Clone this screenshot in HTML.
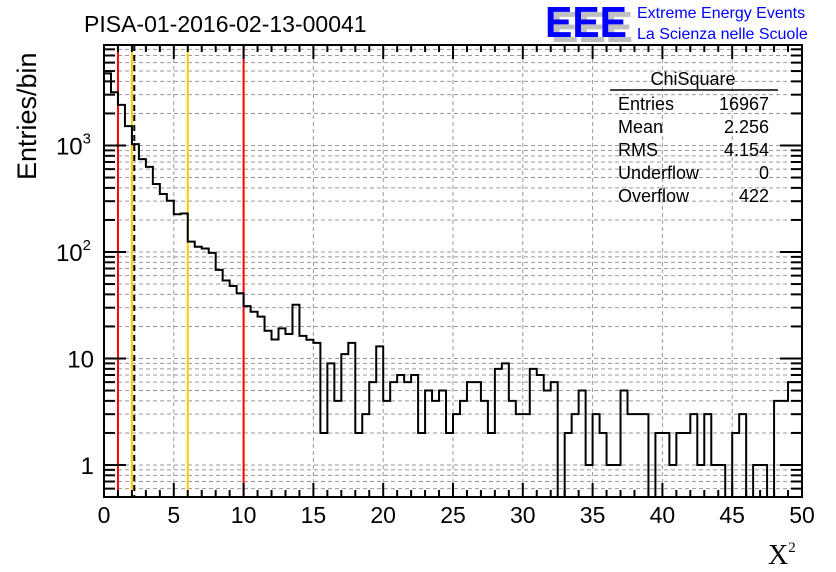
<!DOCTYPE html>
<html><head><meta charset="utf-8">
<style>
html,body{margin:0;padding:0;background:#fff;}
svg{display:block;font-family:"Liberation Sans",sans-serif;}
</style></head>
<body>
<svg id="chart" width="836" height="572" viewBox="0 0 836 572" xmlns="http://www.w3.org/2000/svg">
<rect x="0" y="0" width="836" height="572" fill="#fff"/>
<g id="grid"></g>
<g id="vlines"></g>
<path id="hist" fill="none" stroke="#000" stroke-width="2"/>
<rect x="104" y="45" width="698" height="452" fill="none" stroke="#000" stroke-width="2"/>
<g id="ticks"></g>
<text x="84" y="32" font-size="23">PISA-01-2016-02-13-00041</text>
<g>
<text x="551" y="42" font-size="44" font-weight="bold" fill="#c0c0c0" textLength="82" lengthAdjust="spacingAndGlyphs">EEE</text>
<text x="545" y="37" font-size="44" font-weight="bold" fill="#0000ff" textLength="82" lengthAdjust="spacingAndGlyphs">EEE</text>
<text x="637" y="18" font-size="16" fill="#0000ff">Extreme Energy Events</text>
<text x="637" y="39" font-size="16" fill="#0000ff">La Scienza nelle Scuole</text>
</g>
<g font-size="18">
<text x="693" y="85" text-anchor="middle">ChiSquare</text>
<line x1="610" y1="90" x2="778" y2="90" stroke="#000" stroke-width="1.5"/>
<text x="618" y="110">Entries</text><text x="769" y="110" text-anchor="end">16967</text>
<text x="618" y="133">Mean</text><text x="769" y="133" text-anchor="end">2.256</text>
<text x="618" y="156">RMS</text><text x="769" y="156" text-anchor="end">4.154</text>
<text x="618" y="179">Underflow</text><text x="769" y="179" text-anchor="end">0</text>
<text x="618" y="202">Overflow</text><text x="769" y="202" text-anchor="end">422</text>
</g>
<text transform="translate(36,180) rotate(-90)" font-size="27">Entries/bin</text>
<text x="768" y="564" font-size="28" font-family="Liberation Serif,serif">X<tspan font-size="15" dy="-12">2</tspan></text>
</svg>
<script>
const binWidth = 0.5;
const counts = [4760,3160,2410,1520,1030,745,630,435,350,303,226,230,125,112,108,98,68,54,48,41,
31,27.5,24.7,18.2,15.1,19.2,17,32,16.3,15,14,2,9,4,11,14,2,3,6,13,
4,6,7,6,7,2,5,4,5,2,3,4,6,6,4,2,8,9,4,3,
3,8,7,5,6,0,2,3,5,1,3,2,1,1,5,3,3,3,0,2,
2,1,2,2,3,1,3,1,1,0,2,3,0,1,1,0,4,4,6,6];
const xTicks = [0,5,10,15,20,25,30,35,40,45,50];
const cutLines = [1,2,2.17,6,10];
const cutColors = ["#ff0000","#ffcc00","#000","#ffcc00","#ff0000"];

const X0=104, X1=802, Y0=497, YT=45;
const xs = v => X0 + (v/50)*(X1-X0);
const ys = v => 465 - 106.5*Math.log10(v);
const ymin = 0.5;
const NS="http://www.w3.org/2000/svg";
function el(t,a,p){const e=document.createElementNS(NS,t);for(const k in a)e.setAttribute(k,a[k]);p.appendChild(e);return e;}
const grid=document.getElementById('grid'), ticks=document.getElementById('ticks'), svg=document.getElementById('chart');

xTicks.forEach(v=>{ if(v>0&&v<50){const g=el('line',{x1:xs(v),x2:xs(v),y1:YT,y2:Y0,stroke:'#999','stroke-width':1,'stroke-dasharray':'4,3'},grid);

}});
function yTick(v,big){const y=ys(v); if(y<YT+1||y>Y0-1) return;
 const g=el('line',{x1:X0,x2:X1,y1:y,y2:y,stroke:'#999','stroke-width':1,'stroke-dasharray':'4,3'},grid);
 
 
 const t1=el('line',{x1:X0,x2:X0+(big?22:11),y1:y,y2:y,stroke:'#000','stroke-width':2},ticks);
 
 
 const t2=el('line',{x1:X1,x2:X1-(big?22:11),y1:y,y2:y,stroke:'#000','stroke-width':2},ticks);
 
 
}
for(let d=0; d<4; d++){ for(let m=1;m<=9;m++){ yTick(m*Math.pow(10,d), m===1); }}
[0.6,0.7,0.8,0.9].forEach(v=>yTick(v,false));
[[1,'1'],[10,'10'],[100,'10','2'],[1000,'10','3']].forEach(a=>{
 const t=el('text',{x:94,y:ys(a[0])+9,'font-size':24,'text-anchor':'end'},svg);
 
 
 if(a[2]){ t.setAttribute('x',91); t.textContent=a[1]; const s=el('tspan',{'font-size':15,dy:-11},t); s.textContent=a[2]; }
 else t.textContent=a[1];
});
for(let v=0; v<=50; v+=1){
 const big=v%5===0;
 const t1=el('line',{x1:xs(v),x2:xs(v),y1:Y0,y2:Y0-(big?14:7),stroke:'#000','stroke-width':2},ticks);
 
 
 const t2=el('line',{x1:xs(v),x2:xs(v),y1:YT,y2:YT+(big?14:7),stroke:'#000','stroke-width':2},ticks);
 
 
}
xTicks.forEach(v=>{const t=el('text',{x:xs(v),y:523,'font-size':23,'text-anchor':'middle'},svg);
 
 
 t.textContent=v;});
const vl=document.getElementById('vlines');
cutLines.forEach((v,i)=>{const l=el('line',{x1:xs(v),x2:xs(v),y1:YT,y2:Y0,stroke:cutColors[i],'stroke-width':2},vl);
 if(cutColors[i]==='#000') l.setAttribute('stroke-dasharray','6,4');
 
 });
const yc = v => Math.max(YT, Math.min(Y0, v>0 ? ys(Math.max(v,ymin)) : Y0));
let d='M'+X0+','+Y0;
counts.forEach((c,i)=>{const xa=xs(i*binWidth), xb=xs((i+1)*binWidth), y=yc(c);
 d+=' L'+xa+','+y+' L'+xb+','+y;});
d+=' L'+X1+','+Y0;
document.getElementById('hist').setAttribute('d',d);
</script>
</body></html>
